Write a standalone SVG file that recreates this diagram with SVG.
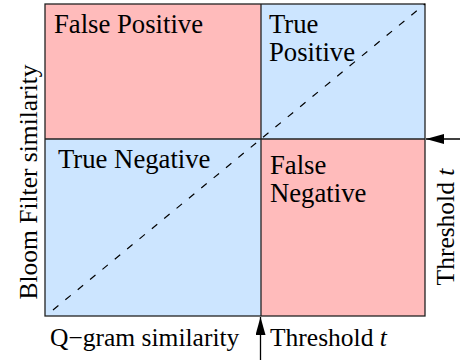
<svg xmlns="http://www.w3.org/2000/svg" width="460" height="360" viewBox="0 0 460 360">
<style>
text{font-family:"Liberation Serif","Times New Roman",serif;font-size:25.5px;fill:#000}
.q{font-size:26.7px}
.fp{fill:#ffbbbb}
.tp{fill:#cce5ff}
.frame{fill:none;stroke:#222;stroke-width:1.3}
.ln{stroke:#000;stroke-width:1.3;fill:none}
.dash{stroke:#000;stroke-width:1.2;fill:none;stroke-dasharray:7 9}
</style>
<defs>
<marker id="ah" viewBox="0 0 18 10" refX="18" refY="5" markerWidth="18" markerHeight="10" markerUnits="userSpaceOnUse" orient="auto">
<path d="M0,0 L18,5 L0,10 z" fill="#000"/>
</marker>
</defs>
<rect width="460" height="360" fill="#fff"/>
<g id="false-positive">
<rect class="fp" x="45" y="4" width="216" height="135"/>
<text class="q" x="54" y="33">False Positive</text>
</g>
<g id="true-positive">
<rect class="tp" x="261" y="4" width="164" height="135"/>
<text class="q" x="269" y="33">True</text>
<text class="q" x="269" y="61">Positive</text>
</g>
<g id="true-negative">
<rect class="tp" x="45" y="139" width="216" height="177"/>
<text class="q" x="58" y="168">True Negative</text>
</g>
<g id="false-negative">
<rect class="fp" x="261" y="139" width="164" height="177"/>
<text class="q" x="270" y="174">False</text>
<text class="q" x="270" y="202">Negative</text>
</g>
<g id="frame">
<rect class="frame" x="45" y="4" width="380" height="312"/>
<line class="frame" x1="261" y1="4" x2="261" y2="316"/>
<line class="frame" x1="45" y1="139" x2="425" y2="139"/>
</g>
<g id="connectors">
<line class="dash" x1="53" y1="310" x2="425" y2="4"/>
<line class="ln" x1="460" y1="139" x2="426" y2="139" marker-end="url(#ah)"/>
<line class="ln" x1="260.5" y1="360" x2="260.5" y2="317" marker-end="url(#ah)"/>
</g>
<g id="axis-labels">
<text x="50" y="346">Q−gram similarity</text>
<text x="270" y="346">Threshold <tspan font-style="italic">t</tspan></text>
<text transform="translate(36.5,182) rotate(-90)" text-anchor="middle">Bloom Filter similarity</text>
<text transform="translate(453.5,227) rotate(-90)" text-anchor="middle">Threshold <tspan font-style="italic">t</tspan></text>
</g>
</svg>
